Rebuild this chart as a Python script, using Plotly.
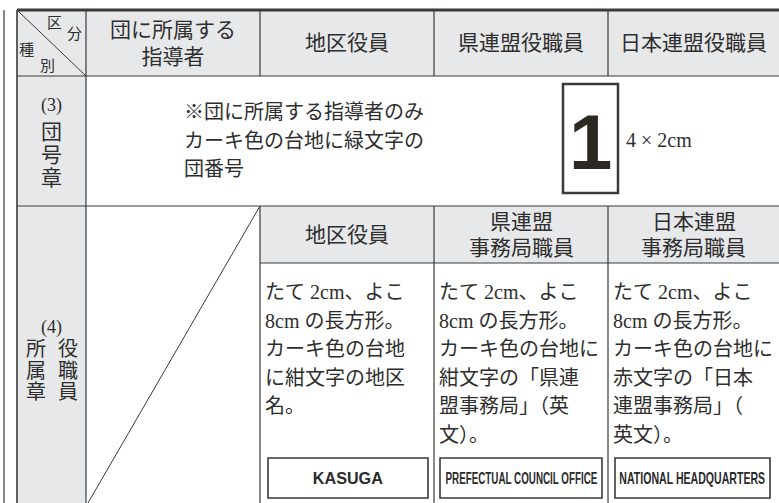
import plotly.graph_objects as go

# ---------------- data (table content) ----------------
header_labels = ["団に所属する<br>指導者", "地区役員", "県連盟役職員", "日本連盟役職員"]
corner_labels = ["区", "分", "種", "別"]
row3_label = ["団", "号", "章"]
row3_number = "(3)"
row3_lines = ["※団に所属する指導者のみ", "カーキ色の台地に緑文字の", "団番号"]
badge_digit = "1"
badge_size = "4 × 2cm"
row4_number = "(4)"
row4_label_left = ["所", "属", "章"]
row4_label_right = ["役", "職", "員"]
sub_headers = ["地区役員", "県連盟<br>事務局職員", "日本連盟<br>事務局職員"]
desc_lines = [
    ["たて 2cm、よこ", "8cm の長方形。", "カーキ色の台地", "に紺文字の地区", "名。"],
    ["たて 2cm、よこ", "8cm の長方形。", "カーキ色の台地に", "紺文字の「県連", "盟事務局」（英", "文）。"],
    ["たて 2cm、よこ", "8cm の長方形。", "カーキ色の台地に", "赤文字の「日本", "連盟事務局」（", "英文）。"],
]
plate_labels = ["KASUGA", "PREFECTUAL COUNCIL OFFICE", "NATIONAL HEADQUARTERS"]

# ---------------- layout geometry ----------------
W, H = 779, 503
XS = [17, 86, 260, 434, 608, 779]
Y_TOP, Y_HEAD, Y_R3, Y_SUB, Y_BOT = 10, 76, 206, 263, 503
GRAY = "#e7e8ea"
LINE = "#3a3a3a"
TXT = "#2e2e2e"
JP = "Liberation Serif, Noto Sans CJK JP, sans-serif"

shapes = []
annotations = []


def rect(x0, y0, x1, y1, fill=None, lw=0, color=LINE):
    shapes.append(dict(type="rect", xref="x", yref="y", x0=x0, y0=y0, x1=x1, y1=y1,
                       fillcolor=fill if fill else "rgba(0,0,0,0)",
                       line=dict(width=lw, color=color), layer="below" if fill else "above"))


def line(x0, y0, x1, y1, lw=1.2, color=LINE):
    shapes.append(dict(type="line", xref="x", yref="y", x0=x0, y0=y0, x1=x1, y1=y1,
                       line=dict(width=lw, color=color)))


def text(x, y, s, size=20, anchor="center", family=JP, color=TXT):
    annotations.append(dict(x=x, y=y, xref="x", yref="y", text=s, showarrow=False,
                            xanchor=anchor, yanchor="middle",
                            font=dict(family=family, size=size, color=color)))


# gray backgrounds
rect(XS[0], Y_TOP, W, Y_HEAD, fill=GRAY)
rect(XS[0], Y_HEAD, XS[1], Y_BOT, fill=GRAY)
rect(XS[2], Y_R3, W, Y_SUB, fill=GRAY)

# borders
line(4, Y_TOP, 4, Y_BOT, lw=1.2)
line(XS[0], Y_TOP, W, Y_TOP, lw=2.8)
line(XS[0], Y_HEAD, W, Y_HEAD)
line(XS[0], Y_R3, W, Y_R3)
line(XS[2], Y_SUB, W, Y_SUB)
line(XS[0], Y_TOP, XS[0], Y_BOT, lw=1.6)
line(XS[1], Y_TOP, XS[1], Y_BOT)
for xv in XS[2:5]:
    line(xv, Y_TOP, xv, Y_HEAD)
    line(xv, Y_R3, xv, Y_BOT)
# diagonals
line(XS[0], Y_TOP, XS[1], Y_HEAD, lw=1.0)
line(XS[2], Y_R3, 88, Y_BOT, lw=1.0)

# header
text(173, 43, header_labels[0], size=21)
for i, lab in enumerate(header_labels[1:]):
    text((XS[i + 2] + XS[i + 3]) / 2, 43, lab, size=21)

# corner cell
for lab, (cx, cy) in zip(corner_labels, [(54, 23), (74, 34), (26, 50), (47, 66)]):
    text(cx, cy, lab, size=15)

# row (3)
text(51, 105, row3_number, size=18)
for i, ch in enumerate(row3_label):
    text(51, 132 + 23 * i, ch, size=21)
for i, s in enumerate(row3_lines):
    text(182, 112 + 28.5 * i, s, size=20, anchor="left")
rect(563, 84, 618, 193, lw=2.5)
text(590, 142, "<b>%s</b>" % badge_digit, size=78, family="Liberation Sans, Arial, sans-serif", color="#2a2820")
text(624, 140, badge_size, size=20, anchor="left", family="Liberation Serif, serif")

# row (4)
text(51, 327, row4_number, size=18)
for i, (a, b) in enumerate(zip(row4_label_left, row4_label_right)):
    text(36, 349 + 21.5 * i, a, size=20)
    text(68, 349 + 21.5 * i, b, size=20)

sub_y = [[235], [222, 248], [222, 248]]
for i, lab in enumerate(sub_headers):
    cx = (XS[i + 2] + XS[i + 3]) / 2
    parts = lab.split("<br>")
    for p, yy in zip(parts, sub_y[i]):
        text(cx, yy, p, size=21)

for i, lines in enumerate(desc_lines):
    x0 = XS[i + 2] + 3
    for j, s in enumerate(lines):
        text(x0, 292 + 28.6 * j, s, size=20, anchor="left")

# name plates: boxes, with narrow bold lettering
plate_boxes = [(268, 428), (440, 602), (615, 770)]
plate_widths = [70, 152, 146]
for (bx0, bx1), lab in zip(plate_boxes, plate_labels):
    rect(bx0, 458, bx1, 498, lw=1.6)
    text((bx0 + bx1) / 2, 478, "<b>%s</b>" % lab, size=17,
         family="Liberation Sans, Arial, sans-serif", color="#2a2a2a")

fig = go.Figure()
fig.update_layout(
    width=W, height=H, margin=dict(l=0, r=0, t=0, b=0),
    paper_bgcolor="white", plot_bgcolor="white",
    xaxis=dict(range=[0, W], visible=False, fixedrange=True),
    yaxis=dict(range=[H, 0], visible=False, fixedrange=True),
    shapes=shapes, annotations=annotations, showlegend=False,
)

# condensed lettering on the plates: squeeze horizontally about the text centre
plate_js = "{" + ",".join('"%s":%d' % (l, w) for l, w in zip(plate_labels, plate_widths)) + "}"
post = (
    "document.body.style.margin='0';"
    "var pw=%s;" % plate_js +
    "document.querySelectorAll('text.annotation-text').forEach(function(t){"
    "var k=t.textContent; if(pw[k]){var w=t.getComputedTextLength();"
    "var s=pw[k]/w; var cx=parseFloat(t.getAttribute('x'))||0;"
    "t.setAttribute('transform','translate('+cx+',0) scale('+s+',1) translate('+(-cx)+',0)');}});"
)
fig.write_html("out.html", post_script=post, config={"displayModeBar": False})
